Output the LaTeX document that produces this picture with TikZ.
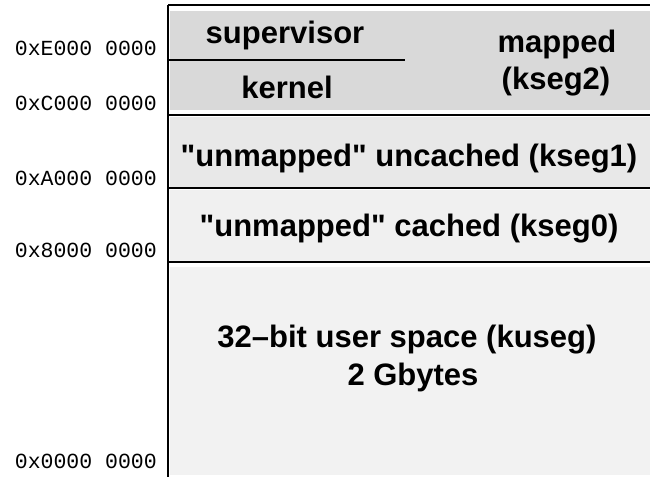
\documentclass[tikz,border=0pt]{standalone}
\usepackage{fontspec}
\setmainfont{Liberation Sans}
\setmonofont{Liberation Mono}
\usetikzlibrary{positioning}
\definecolor{ksegtwo}{HTML}{D9D9D9}
\definecolor{ksegone}{HTML}{E8E8E8}
\definecolor{ksegzero}{HTML}{F0F0F0}
\definecolor{kuseg}{HTML}{F2F2F2}
\tikzset{
  segtext/.style={font=\bfseries\fontsize{31}{35}\selectfont, anchor=base, inner sep=0pt},
  addr/.style={font=\ttfamily\fontsize{21.5}{24}\selectfont, anchor=base east, inner sep=0pt},
  border/.style={line width=2.2pt},
}
\begin{document}
\begin{tikzpicture}[x=1pt,y=-1pt]
  \useasboundingbox (0,0) rectangle (650,477);
  % segment fills
  \fill[ksegtwo] (170,11) rectangle (650,110);
  \fill[ksegone] (170,117) rectangle (650,187);
  \fill[ksegzero] (170,190) rectangle (650,261);
  \fill[kuseg] (170,267) rectangle (650,475);
  % boundaries
  \coordinate (topl) at (168,5);
  \coordinate (botl) at (168,477);
  \draw[border] (topl) -- (botl);
  \draw[border] (topl) -- (650,5);
  \draw[border] (168,115) -- (650,115);
  \draw[border] (168,188) -- (650,188);
  \draw[border] (168,262) -- (650,262);
  \draw[border] (168,60) -- (405,60);
  % segment names
  \node[segtext] (sup) at (285,43) {supervisor};
  \node[segtext] (kern) at (287,98) {kernel};
  \node[segtext] (mapd) at (557,52) {mapped};
  \node[segtext] (ktwo) at (556,89) {(kseg2)};
  \node[segtext] (kone) at (409,166) {\textquotedbl unmapped\textquotedbl{} uncached (kseg1)};
  \node[segtext] (kzero) at (409,236) {\textquotedbl unmapped\textquotedbl{} cached (kseg0)};
  \node[segtext] (kus) at (407,347) {32--bit user space (kuseg)};
  \node[segtext] (gb) at (413,385) {2 Gbytes};
  % addresses
  \node[addr] (ae) at (157,55) {0xE000 0000};
  \node[addr] (ac) at (157,110) {0xC000 0000};
  \node[addr] (aa) at (157,185) {0xA000 0000};
  \node[addr] (a8) at (157,257) {0x8000 0000};
  \node[addr] (a0) at (157,468) {0x0000 0000};
\end{tikzpicture}
\end{document}
